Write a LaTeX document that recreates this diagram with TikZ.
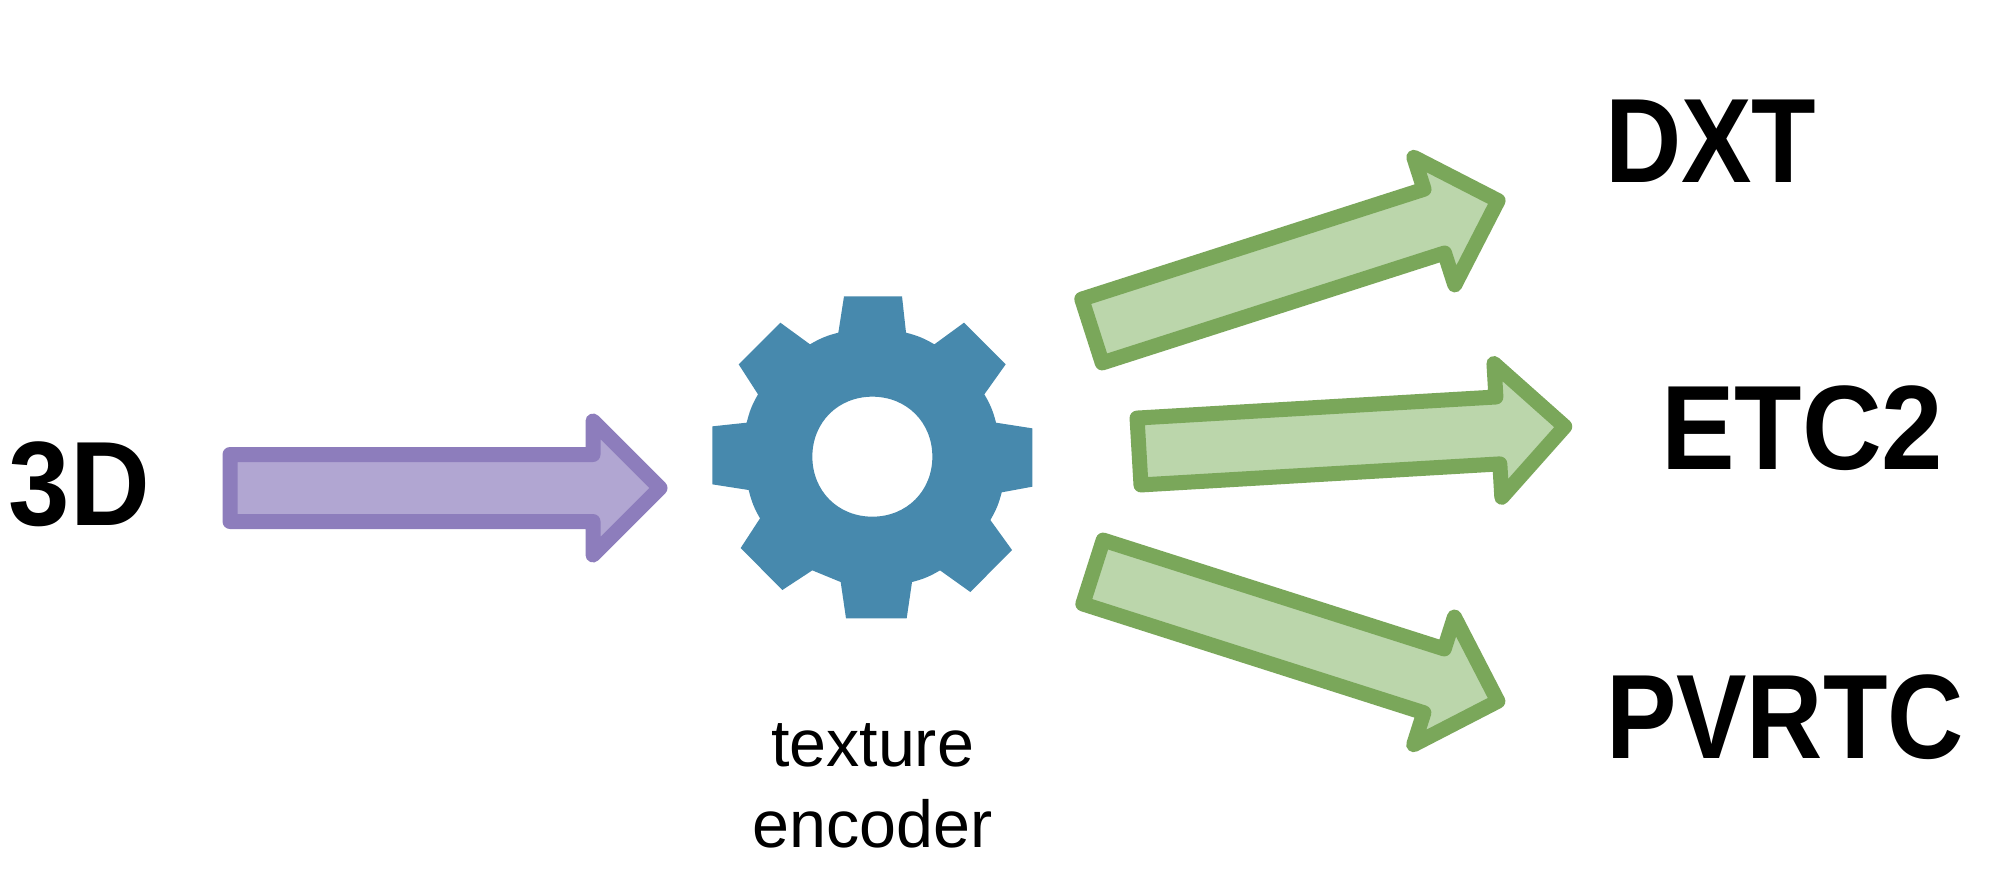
\documentclass[tikz,border=0pt]{standalone}
\usepackage{fontspec}
\setmainfont{Liberation Sans}
\newfontfamily\labfont[FakeStretch=0.88]{Liberation Sans}
\newfontfamily\widelabfont[FakeStretch=0.92]{Liberation Sans}
\definecolor{purpleline}{HTML}{8D7DBC}
\definecolor{purplefill}{HTML}{B1A6D2}
\definecolor{greenline}{HTML}{7AA75A}
\definecolor{greenfill}{HTML}{BBD6AB}
\definecolor{gearblue}{HTML}{4789AD}
\tikzset{
  purplearrow/.style={draw=purpleline,fill=purplefill,line width=7.5pt,line join=round},
  greenarrow/.style={draw=greenline,fill=greenfill,line width=7.5pt,line join=round},
  biglabel/.style={anchor=base west,inner sep=0pt,outer sep=0pt,font=\labfont\bfseries\fontsize{60}{60}\selectfont},
  widelabel/.style={biglabel,font=\widelabfont\bfseries\fontsize{60}{60}\selectfont},
  caption/.style={anchor=base,align=center,inner sep=0pt,outer sep=0pt,font=\fontsize{33.2}{40.5}\selectfont}
}
% #1 style, #2 tail centre, #3 angle, #4 length, #5 head length, #6 head half width
\newcommand{\blockarrow}[6]{%
  \begin{scope}[shift={#2},rotate=#3]
    \draw[#1] (0,-33.5) -- (#4-#5,-33.5) -- (#4-#5,-#6) -- (#4,0) -- (#4-#5,#6) -- (#4-#5,33.5) -- (0,33.5) -- cycle;
  \end{scope}}
\begin{document}
\begin{tikzpicture}[x=0.5pt,y=-0.5pt]
\useasboundingbox (0,0) rectangle (2000,884);
\fill[white] (0,0) rectangle (2000,884);

\blockarrow{purplearrow}{(230,488)}{0}{430}{67}{67}
\blockarrow{greenarrow}{(1092,331)}{17.8}{426.5}{67}{67}
\blockarrow{greenarrow}{(1139,451.5)}{3.36}{426.5}{67}{67}
\blockarrow{greenarrow}{(1093,572)}{-17.7}{425}{67}{67}

\begin{scope}[shift={(680,270)},x=0.16667pt,y=-0.16667pt]
\fill[gearblue,even odd rule]
  (492,79) -- (666,79) -- (678,188) to[bend left=8] (763,223)
  -- (852,158) -- (977,283) -- (913,373) to[bend left=8] (948,458)
  -- (1057,475) -- (1057,650) -- (965,667) to[bend left=8] (931,750)
  -- (996,840) -- (871,966) -- (780,901) to[bend left=8] (696,936)
  -- (680,1045) -- (498,1045) -- (482,936) -- (397,901)
  -- (307,960) -- (182,834) -- (240,745) to[bend left=8] (206,660)
  -- (97,643) -- (97,469) -- (200,458) to[bend left=8] (234,373)
  -- (176,283) -- (301,158) -- (390,223) to[bend left=8] (475,188) -- cycle
  (577,380) .. controls (680,380) and (757,457) .. (757,560)
  .. controls (757,663) and (680,740) .. (577,740)
  .. controls (474,740) and (397,663) .. (397,560)
  .. controls (397,457) and (474,380) .. (577,380) -- cycle;
\end{scope}

\node[widelabel] (threed) at (9,525) {3D};
\node[biglabel] (dxt) at (1605,182) {DXT};
\node[widelabel] (etc) at (1661,469) {ETC2};
\node[biglabel] (pvrtc) at (1606,758) {PVRTC};
\node[caption] (encoder) at (872.5,847) {texture\\encoder};
\end{tikzpicture}
\end{document}
